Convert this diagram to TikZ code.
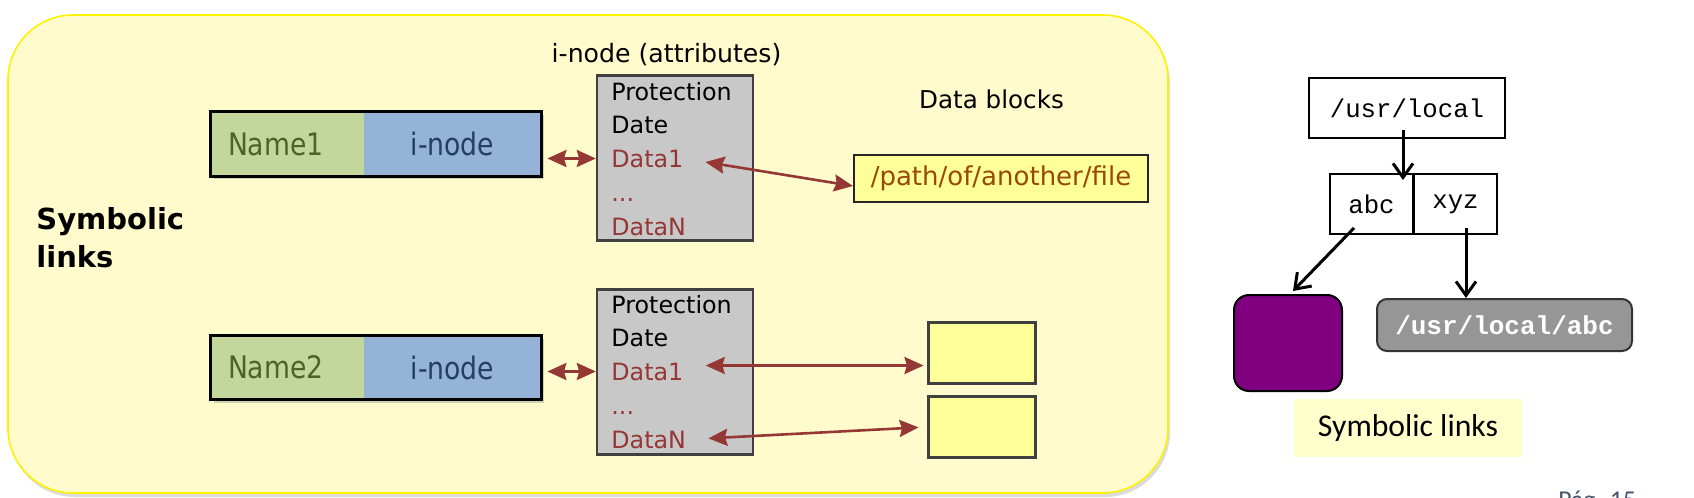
\documentclass[tikz,border=0pt]{standalone}
\usepackage{fontspec}
\setmainfont{DejaVu Sans}
\setmonofont{Liberation Mono}
\newfontfamily\cellfont[FakeStretch=0.86]{DejaVu Sans}
\newfontfamily\calfont{Carlito}
\usetikzlibrary{arrows.meta,shadows,positioning}

\definecolor{bgyellow}{HTML}{FFFBCC}
\definecolor{namegreen}{HTML}{C3D69B}
\definecolor{nodeblue}{HTML}{95B3D7}
\definecolor{olivetext}{HTML}{4F6228}
\definecolor{bluetext}{HTML}{243F60}
\definecolor{attrgray}{HTML}{C8C8C8}
\definecolor{darkred}{HTML}{953735}
\definecolor{pathbrown}{HTML}{984807}
\definecolor{blockyellow}{HTML}{FFFF99}
\definecolor{linkpurple}{HTML}{800080}
\definecolor{abcgray}{HTML}{969696}
\definecolor{labelyellow}{HTML}{FFFFCC}
\definecolor{pagegray}{HTML}{44546A}

\begin{document}
\begin{tikzpicture}[x=0.5pt,y=-0.5pt,
    namecell/.style={fill=namegreen,text=olivetext,minimum height=32pt,text width=59.5pt,
      inner xsep=8.5pt,inner ysep=0pt,align=left,font=\cellfont\fontsize{15.5}{18}\selectfont,
      drop shadow={shadow xshift=1.5pt,shadow yshift=-1.5pt,opacity=.35}},
    inodecell/.style={fill=nodeblue,text=bluetext,minimum height=32pt,minimum width=88.5pt,
      inner sep=0pt,font=\cellfont\fontsize{15.5}{18}\selectfont,
      drop shadow={shadow xshift=1.5pt,shadow yshift=-1.5pt,opacity=.35}},
    attrbox/.style={draw=black!75,line width=1.2pt,fill=attrgray,minimum width=78pt,minimum height=82.5pt},
    attrtext/.style={anchor=base west,inner sep=0pt,font=\fontsize{11.9}{14}\selectfont},
    datatext/.style={attrtext,text=darkred},
    blockbox/.style={draw=black!75,line width=1.5pt,fill=blockyellow,minimum width=53.5pt,minimum height=30.5pt},
    redarrow/.style={{Stealth[length=9.5pt,width=8.5pt,inset=1.2pt]}-{Stealth[length=9.5pt,width=8.5pt,inset=1.2pt]},
      draw=darkred,line width=1.3pt},
    dirbox/.style={draw,line width=1pt,minimum height=30pt,inner sep=0pt,font=\ttfamily\fontsize{12.85}{15}\selectfont},
    blackarrow/.style={-{Straight Barb[length=7pt,width=10pt]},line width=1.5pt}]

  \useasboundingbox (0,0) rectangle (1694,498);

  % left panel
  \fill[black!14,rounded corners=32.5pt] (10,19) rectangle (1170,497);
  \draw[yellow,line width=0.8pt,fill=bgyellow,rounded corners=32.5pt] (8,15) rectangle (1168,493);

  \node[anchor=west,inner sep=0pt,align=left,font=\bfseries\fontsize{14.5}{19}\selectfont] (symtitle)
    at (36,238) {Symbolic\\links};

  \node[anchor=base,inner sep=0pt,font=\fontsize{12.6}{15}\selectfont] (inodelbl) at (666.5,62) {i-node (attributes)};
  \node[anchor=base,inner sep=0pt,font=\fontsize{12.3}{15}\selectfont] (blockslbl) at (991.5,108) {Data blocks};

  % first entry: Name1 -> i-node -> /path/of/another/file
  \node[namecell] (name1) at (287.5,144) {Name1};
  \node[inodecell] (inode1) at (452.5,144) {i-node};
  \draw[line width=1.5pt] (name1.north west) rectangle (inode1.south east);

  \node[attrbox] (attr1) at (675,158) {};
  \node[attrtext] (a1prot) at (611,100) {Protection};
  \node[attrtext] (a1date) at (611,133) {Date};
  \node[datatext] (a1data1) at (611,167) {Data1};
  \node[datatext] (a1dots) at (611,201) {...};
  \node[datatext] (a1datan) at (611,235) {DataN};

  \node[draw=black!85,line width=1pt,fill=blockyellow,minimum width=147pt,minimum height=23.5pt,
    text=pathbrown,font=\fontsize{13}{15}\selectfont] (pathbox) at (1001,178.5) {/path/of/another/file};

  \draw[redarrow,shorten <=3pt] (inode1.east |- a1data1.west) -- (attr1.west |- a1data1.west);
  \draw[redarrow,shorten <=11pt] (a1data1.east) -- ([yshift=-3.75pt]pathbox.west);

  % second entry: Name2 -> i-node -> data blocks
  \node[namecell] (name2) at (287.5,367.5) {Name2};
  \node[inodecell] (inode2) at (452.5,367.5) {i-node};
  \draw[line width=1.5pt] (name2.north west) rectangle (inode2.south east);

  \node[attrbox] (attr2) at (675,372) {};
  \node[attrtext] (a2prot) at (611,313) {Protection};
  \node[attrtext] (a2date) at (611,346) {Date};
  \node[datatext] (a2data1) at (611,380) {Data1};
  \node[datatext] (a2dots) at (611,414) {...};
  \node[datatext] (a2datan) at (611,448) {DataN};

  \node[blockbox] (block1) at (981.5,353) {};
  \node[blockbox] (block2) at (981.5,427) {};

  \draw[redarrow,shorten <=3pt] (inode2.east |- a2data1.west) -- (attr2.west |- a2data1.west);
  \draw[redarrow,shorten <=11pt,shorten >=1.5pt] ([yshift=3pt]a2data1.east) -- ([yshift=3pt]a2data1.east -| block1.west);
  \draw[redarrow,shorten <=11pt,shorten >=4pt] (a2datan.east) -- (block2.west);

  % right panel
  \node[dirbox,minimum width=98pt] (usrlocal) at (1407,108) {/usr/local};
  \node[dirbox,minimum width=41.5pt] (abc) at (1371.5,204) {abc};
  \node[dirbox,minimum width=41.5pt] (xyz) at (1455.5,204) {xyz};

  \node[draw,line width=1pt,fill=linkpurple,rounded corners=7.5pt,minimum width=54pt,minimum height=48pt] (purple) at (1288,343) {};
  \node[draw=black!80,line width=1pt,fill=abcgray,rounded corners=5pt,minimum width=127.5pt,minimum height=26pt,
    text=white,font=\ttfamily\bfseries\fontsize{13}{15}\selectfont] (abcpath) at (1504.5,325) {/usr/local/abc};

  \draw[blackarrow,shorten <=-4.5pt,shorten >=-3.5pt] ([xshift=-5.5pt]usrlocal.south -| abc.east) -- ([xshift=-5.5pt]abc.north east);
  \draw[blackarrow] ([xshift=-8.75pt,yshift=3.5pt]abc.south) -- ([xshift=2.5pt,yshift=1.5pt]purple.north);
  \draw[blackarrow,shorten <=-3.5pt] ([xshift=5.25pt]xyz.south) -- ([xshift=5.25pt]xyz.south |- abcpath.north);

  \node[fill=labelyellow,minimum width=114pt,minimum height=29pt,inner sep=0pt,
    font=\calfont\fontsize{15.85}{18}\selectfont] (symlbl) at (1408,428) {Symbolic links};

  \node[anchor=base west,inner sep=0pt,text=pagegray,font=\calfont\fontsize{12.85}{15}\selectfont] (pagenum)
    at (1558,508.5) {Pág. 15};
\end{tikzpicture}
\end{document}
